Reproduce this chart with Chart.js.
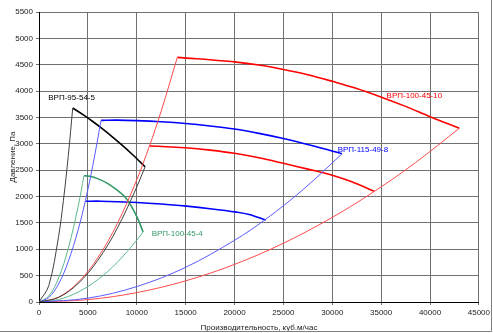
<!DOCTYPE html>
<html>
<head>
<meta charset="utf-8">
<script src="https://cdn.jsdelivr.net/npm/chart.js@4.4.1/dist/chart.umd.min.js"></script>
<style>
  html, body { margin: 0; padding: 0; background: #fff; }
  #wrap { width: 493px; height: 333px; position: relative; }
</style>
</head>
<body>
<div id="wrap"><canvas id="fanChart"></canvas></div>
<script>
// Fan curves (thick) - flow, m3/h / pressure, Pa
const fan95X = [3450, 4500, 5500, 6500, 7500, 8500, 9500, 10850];
const fan95Y = [3680, 3553, 3423, 3283, 3133, 2975, 2807, 2565];

const fan100s4X = [4600, 5200, 6000, 7000, 8000, 8800, 9500, 10100, 10650];
const fan100s4Y = [2395, 2385, 2340, 2250, 2120, 1990, 1800, 1580, 1330];

const fan115HiX = [6350, 8000, 10000, 12500, 15000, 17500, 20000, 22500, 25000, 28000, 31000];
const fan115HiY = [3445, 3450, 3440, 3418, 3385, 3338, 3280, 3198, 3100, 2962, 2810];
const fan115LoX = [4750, 6300, 10000, 12500, 15100, 17500, 20200, 21500, 23200];
const fan115LoY = [1910, 1912, 1888, 1860, 1818, 1770, 1705, 1660, 1555];

const fan10HiX = [14150, 15100, 17500, 20200, 22500, 25000, 27500, 30100, 32500, 34900, 37500, 40000, 43000];
const fan10HiY = [4640, 4625, 4595, 4550, 4495, 4410, 4310, 4180, 4050, 3895, 3710, 3515, 3295];
const fan10LoX = [11300, 13000, 15000, 17500, 20000, 22500, 25000, 27500, 30000, 32000, 34300];
const fan10LoY = [2960, 2945, 2925, 2880, 2820, 2735, 2630, 2520, 2405, 2280, 2100];

// System curves (thin)
const sys95aX = [0, 1000, 2000, 2500, 3000, 3450];
const sys95aY = [0, 310, 1240, 1930, 2780, 3680];
const sys95bX = [0, 2000, 4000, 6000, 8000, 10000, 10850];
const sys95bY = [0, 87, 350, 785, 1395, 2180, 2565];

const sys115aX = [0, 1000, 2000, 3000, 4000, 4750, 5500, 6350];
const sys115aY = [0, 85, 340, 770, 1365, 1925, 2585, 3445];
const sys115bX = [0, 5000, 10000, 15000, 20000, 23200, 27000, 31000];
const sys115bY = [0, 73, 292, 658, 1170, 1570, 2130, 2810];

const sys4aX = [0, 1000, 2000, 3000, 4000, 4600];
const sys4aY = [0, 113, 453, 1018, 1810, 2395];
const sys4bX = [0, 2000, 4000, 6000, 8000, 10000, 10650];
const sys4bY = [0, 47, 188, 422, 750, 1173, 1330];

const sys10aX = [0, 2000, 4000, 6000, 8000, 10000, 11300, 12500, 14150];
const sys10aY = [0, 93, 371, 834, 1483, 2317, 2960, 3620, 4640];
const sys10bX = [0, 5000, 10000, 15000, 20000, 25000, 30000, 34300, 38500, 43000];
const sys10bY = [0, 45, 178, 401, 713, 1114, 1604, 2097, 2641, 3295];

// Curve labels
const labelTexts = ["ВРП-95-54-5", "ВРП-100-45-10", "ВРП-115-49-8", "ВРП-100-45-4"];
const labelX = [950, 35560, 30550, 11525];
const labelY = [3880, 3908, 2896, 1300];
const labelColors = ["#000000", "#ff0000", "#0000ff", "#339966"];

const xTitle = "Производительность, куб.м/час";
const yTitle = "Давление, Па";

function pts(xs, ys) {
  return xs.map((x, i) => ({ x: x, y: ys[i] }));
}

function line(xs, ys, color, width) {
  return {
    data: pts(xs, ys),
    borderColor: color,
    backgroundColor: color,
    borderWidth: width,
    showLine: true,
    pointRadius: 0,
    fill: false,
    tension: 0.35,
  };
}

const FONT = "'Liberation Sans', Arial, sans-serif";

const curveLabels = {
  id: "curveLabels",
  afterDatasetsDraw(chart) {
    const ctx = chart.ctx;
    const xs = chart.scales.x;
    const ys = chart.scales.y;
    ctx.save();
    ctx.font = "8px " + FONT;
    ctx.textAlign = "left";
    ctx.textBaseline = "middle";
    labelTexts.forEach((t, i) => {
      ctx.fillStyle = labelColors[i];
      ctx.fillText(t, xs.getPixelForValue(labelX[i]), ys.getPixelForValue(labelY[i]));
    });
    ctx.restore();
  },
};

const frame = {
  id: "frame",
  afterDraw(chart) {
    const ctx = chart.ctx;
    ctx.save();
    ctx.strokeStyle = "#808080";
    ctx.lineWidth = 1;
    ctx.beginPath();
    ctx.moveTo(0, 331.5);
    ctx.lineTo(491.5, 331.5);
    ctx.lineTo(491.5, 0);
    ctx.stroke();
    ctx.restore();
  },
};

new Chart(document.getElementById("fanChart"), {
  type: "scatter",
  data: {
    datasets: [
      line(sys95aX, sys95aY, "#404040", 1),
      line(sys95bX, sys95bY, "#404040", 1),
      line(sys115aX, sys115aY, "#5a5aff", 1),
      line(sys115bX, sys115bY, "#5a5aff", 1),
      line(sys4aX, sys4aY, "#5cb88a", 1),
      line(sys4bX, sys4bY, "#5cb88a", 1),
      line(sys10aX, sys10aY, "#ff4a4a", 1),
      line(sys10bX, sys10bY, "#ff4a4a", 1),
      line(fan95X, fan95Y, "#000000", 1.6),
      line(fan100s4X, fan100s4Y, "#339966", 1.6),
      line(fan115HiX, fan115HiY, "#0000ff", 1.6),
      line(fan115LoX, fan115LoY, "#0000ff", 1.6),
      line(fan10HiX, fan10HiY, "#ff0000", 1.6),
      line(fan10LoX, fan10LoY, "#ff0000", 1.6),
    ],
  },
  options: {
    responsive: true,
    maintainAspectRatio: false,
    animation: false,
    layout: {
      padding: { top: 12, right: 14, left: 8, bottom: 0 },
    },
    plugins: {
      legend: { display: false },
      tooltip: { enabled: false },
    },
    scales: {
      x: {
        type: "linear",
        min: 0,
        max: 45000,
        ticks: {
          stepSize: 5000,
          color: "#222",
          font: { family: FONT, size: 8 },
          maxRotation: 0,
          padding: 3,
          callback: (v) => String(v),
        },
        grid: { color: "#707070", tickLength: 3 },
        border: { color: "#000" },
        title: {
          display: true,
          text: xTitle,
          color: "#222",
          font: { family: FONT, size: 8 },
          padding: { top: 0, bottom: 0 },
        },
        afterFit(scale) {
          scale.height = 31;
        },
      },
      y: {
        type: "linear",
        min: 0,
        max: 5500,
        ticks: {
          stepSize: 500,
          color: "#222",
          font: { family: FONT, size: 8 },
          padding: 3,
          callback: (v) => String(v),
        },
        grid: { color: "#707070", tickLength: 3 },
        border: { color: "#000" },
        title: {
          display: true,
          text: yTitle,
          color: "#222",
          font: { family: FONT, size: 8 },
          padding: { top: 0, bottom: 0 },
        },
        afterFit(scale) {
          scale.width = 31;
        },
      },
    },
  },
  plugins: [curveLabels, frame],
});
</script>
</body>
</html>
